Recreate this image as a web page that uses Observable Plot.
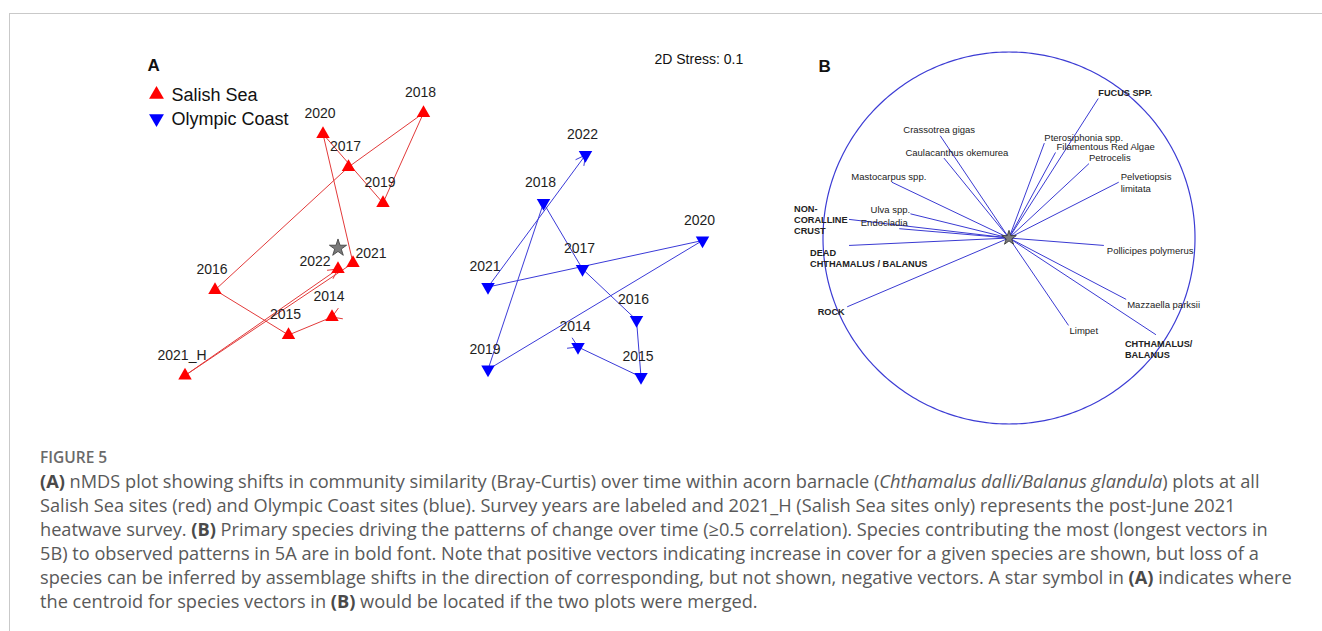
<!DOCTYPE html>
<html>
<head>
<meta charset="utf-8">
<script src="https://cdn.jsdelivr.net/npm/d3@7"></script>
<script src="https://cdn.jsdelivr.net/npm/@observablehq/plot@0.6"></script>
<style>
  html, body { margin: 0; padding: 0; background: #fff; }
  #figure { position: relative; width: 1322px; height: 631px; overflow: hidden; }
  #frame { position: absolute; left: 9px; top: 13px; right: 0; bottom: 0;
           border-top: 1px solid #c9c9c9; border-left: 1px solid #c9c9c9; }
  #panelA { position: absolute; left: 0; top: 0; }
  #panelB { position: absolute; left: 775.5px; top: 4.5px; }
  #caption { position: absolute; left: 40px; top: 445px; font-family: "Open Sans", "Noto Sans", sans-serif;
             color: #595959; font-size: 18.2px; line-height: 24px; white-space: nowrap; }
  #caption .fig { font-weight: 600; font-size: 15.5px; color: #6a6a6a; }
  #caption b { font-weight: 700; color: #4a4a4a; }
  svg { overflow: visible; }
</style>
</head>
<body>
<div id="figure">
  <div id="frame"></div>
  <div id="panelA"></div>
  <div id="panelB"></div>
  <div id="caption">
    <div class="fig">FIGURE 5</div>
    <div><b>(A)</b> nMDS plot showing shifts in community similarity (Bray-Curtis) over time within acorn barnacle (<i>Chthamalus dalli/Balanus glandula</i>) plots at all</div>
    <div>Salish Sea sites (red) and Olympic Coast sites (blue). Survey years are labeled and 2021_H (Salish Sea sites only) represents the post-June 2021</div>
    <div>heatwave survey. <b>(B)</b> Primary species driving the patterns of change over time (≥0.5 correlation). Species contributing the most (longest vectors in</div>
    <div>5B) to observed patterns in 5A are in bold font. Note that positive vectors indicating increase in cover for a given species are shown, but loss of a</div>
    <div>species can be inferred by assemblage shifts in the direction of corresponding, but not shown, negative vectors. A star symbol in <b>(A)</b> indicates where</div>
    <div>the centroid for species vectors in <b>(B)</b> would be located if the two plots were merged.</div>
  </div>
</div>
<script>
// ---- nMDS ordination (panel A) ----
const seriesNames = ["Salish Sea", "Olympic Coast"];
const stressValue = 0.1;

const salishYears = ["2014", "2015", "2016", "2017", "2018", "2019", "2020", "2021", "2021_H", "2022"];
const salishAxis1 = [-0.39, -0.68, -1.17, -0.28, 0.22, -0.05, -0.45, -0.25, -1.37, -0.35];
const salishAxis2 = [-0.51, -0.63, -0.33, 0.49, 0.85, 0.25, 0.71, -0.15, -0.90, -0.19];

const olympicYears = ["2014", "2015", "2016", "2017", "2018", "2019", "2020", "2021", "2022"];
const olympicAxis1 = [1.25, 1.67, 1.64, 1.28, 1.02, 0.65, 2.08, 0.65, 1.30];
const olympicAxis2 = [-0.71, -0.91, -0.53, -0.19, 0.25, -0.86, 0.00, -0.31, 0.57];

// centroid of the species vectors, placed in ordination space
const centroidAxis1 = -0.35;
const centroidAxis2 = -0.05;

// ---- species vectors (panel B), correlation units ----
const species = [
  "Crassotrea gigas", "Caulacanthus okemurea", "Mastocarpus spp.", "Ulva spp.", "Endocladia",
  "NON-\nCORALLINE\nCRUST", "DEAD\nCHTHAMALUS / BALANUS", "ROCK", "FUCUS SPP.",
  "Pterosiphonia spp.", "Filamentous Red Algae", "Petrocelis", "Pelvetiopsis\nlimitata",
  "Pollicipes polymerus", "Mazzaella parksii", "Limpet", "CHTHAMALUS/\nBALANUS"
];
const speciesAxis1 = [-0.37, -0.35, -0.63, -0.53, -0.59, -0.86, -0.86, -0.87, 0.48, 0.19, 0.25, 0.43, 0.59, 0.51, 0.63, 0.32, 0.79];
const speciesAxis2 = [0.55, 0.43, 0.30, 0.13, 0.05, 0.10, -0.04, -0.37, 0.75, 0.51, 0.46, 0.40, 0.30, -0.04, -0.33, -0.47, -0.52];
// species with the longest vectors (drawn in bold)
const strongestSpecies = ["NON-\nCORALLINE\nCRUST", "DEAD\nCHTHAMALUS / BALANUS", "ROCK", "FUCUS SPP.", "CHTHAMALUS/\nBALANUS"];

// ---- styling ----
const FONT = "Liberation Sans, Arial, Helvetica, sans-serif";
const RED = "#ff0000", BLUE = "#0000ff";
const RED_LINE = "#e23a3a", BLUE_LINE = "#3a3ad8";

// downward-pointing triangle symbol
const triangleDown = {
  draw(context, size) {
    const s3 = Math.sqrt(3);
    const y = Math.sqrt(size / (s3 * 3));
    context.moveTo(0, y * 2);
    context.lineTo(-s3 * y, -y);
    context.lineTo(s3 * y, -y);
    context.closePath();
  }
};

const toRows = (series, years, a1, a2) => years.map((year, i) => ({series, year, x: a1[i], y: a2[i]}));
const salish = toRows(seriesNames[0], salishYears, salishAxis1, salishAxis2);
const olympic = toRows(seriesNames[1], olympicYears, olympicAxis1, olympicAxis2);

const segments = (rows) => d3.pairs(rows).map(([a, b]) => ({x1: a.x, y1: a.y, x2: b.x, y2: b.y}));

// two short barbs at a tip, for an arrowhead pointing along (dx, dy)
function barbs(tip, dx, dy, len, halfAngle) {
  const n = Math.hypot(dx, dy), ux = dx / n, uy = dy / n, a = halfAngle * Math.PI / 180;
  return [-a, a].map(t => ({
    x1: tip.x, y1: tip.y,
    x2: tip.x - len * (ux * Math.cos(t) - uy * Math.sin(t)),
    y2: tip.y - len * (ux * Math.sin(t) + uy * Math.cos(t))
  }));
}
// start marker at the first survey and arrowhead at the last
function trajectoryHeads(rows, len) {
  const [p0, p1] = rows, q1 = rows[rows.length - 2], q = rows[rows.length - 1];
  return [
    ...barbs(p0, p1.x - p0.x, p1.y - p0.y, len, 32),
    ...barbs(q, q.x - q1.x, q.y - q1.y, len, 28)
  ];
}

const A_W = 780, A_H = 420, A_X = [-2.6, 2.6], A_Y = [-1.2, 1.6];
const unitPx = A_W / (A_X[1] - A_X[0]);
const headLen = 11 / unitPx;

// year label offsets (px) where the default spot would collide
const yearLabelShift = {"Salish Sea|2021": [18, -9], "Salish Sea|2022": [-23, -7]};
const yearLabels = [...salish, ...olympic].map(d => {
  const [dx, dy] = yearLabelShift[`${d.series}|${d.year}`] ?? [-3, -20];
  return Plot.text([d], {x: "x", y: "y", text: "year", dx, dy, fontSize: 14, fontFamily: FONT, fill: "#1e1e1e"});
});

// text pinned to the frame's top-left corner, centred vertically on dy
const frameText = (s, dx, dy, opts) => Plot.text([s], {
  text: d => d, frameAnchor: "top-left", dx, dy, textAnchor: "start", lineAnchor: "middle",
  fontFamily: FONT, fill: "#111", ...opts
});

const panelA = Plot.plot({
  width: A_W, height: A_H, margin: 0,
  x: {domain: A_X, axis: null},
  y: {domain: A_Y, axis: null},
  marks: [
    Plot.link(segments(salish), {x1: "x1", y1: "y1", x2: "x2", y2: "y2", stroke: RED_LINE, strokeWidth: 1}),
    Plot.link(trajectoryHeads(salish, headLen), {x1: "x1", y1: "y1", x2: "x2", y2: "y2", stroke: RED_LINE, strokeWidth: 1}),
    Plot.link(segments(olympic), {x1: "x1", y1: "y1", x2: "x2", y2: "y2", stroke: BLUE_LINE, strokeWidth: 1}),
    Plot.link(trajectoryHeads(olympic, headLen), {x1: "x1", y1: "y1", x2: "x2", y2: "y2", stroke: BLUE_LINE, strokeWidth: 1}),
    Plot.dot(salish, {x: "x", y: "y", symbol: "triangle", r: 5, fill: RED}),
    Plot.dot(olympic, {x: "x", y: "y", symbol: triangleDown, r: 5, fill: BLUE}),
    Plot.dot([{x: centroidAxis1, y: centroidAxis2}], {x: "x", y: "y", symbol: "star", r: 5.4, fill: "#7b7b7b", stroke: "#3a3a3a", strokeWidth: 0.8}),
    ...yearLabels,
    // legend
    Plot.dot([seriesNames[0]], {frameAnchor: "top-left", dx: 156, dy: 94, symbol: "triangle", r: 5.5, fill: RED}),
    Plot.dot([seriesNames[1]], {frameAnchor: "top-left", dx: 156, dy: 118, symbol: triangleDown, r: 5.5, fill: BLUE}),
    frameText(seriesNames[0], 171, 95, {fontSize: 18}),
    frameText(seriesNames[1], 171, 119, {fontSize: 18}),
    frameText("A", 147, 65, {fontSize: 17, fontWeight: "bold"}),
    frameText(`2D Stress: ${stressValue}`, 654, 59, {fontSize: 14})
  ]
});
document.getElementById("panelA").append(panelA);

// ---- panel B ----
const vectors = species.map((name, i) => ({name, x0: 0, y0: 0, x: speciesAxis1[i], y: speciesAxis2[i], bold: strongestSpecies.includes(name)}));
// correlation circle of radius 1
const unitCircle = d3.range(0, 361).map(deg => ({x: Math.cos(deg * Math.PI / 180), y: Math.sin(deg * Math.PI / 180)}));

// label anchor and offset (px) relative to each vector's tip
const labelPlacement = {
  "Crassotrea gigas": ["middle", -1, -6],
  "Caulacanthus okemurea": ["middle", 13, -6],
  "Mastocarpus spp.": ["middle", -3, -6],
  "Ulva spp.": ["middle", -20, -5],
  "Endocladia": ["middle", -15, -6],
  "NON-\nCORALLINE\nCRUST": ["start", -55, 0],
  "DEAD\nCHTHAMALUS / BALANUS": ["start", -39, 12.5],
  "ROCK": ["middle", -16, 5],
  "FUCUS SPP.": ["start", 0, -6],
  "Pterosiphonia spp.": ["start", 0, -6],
  "Filamentous Red Algae": ["start", 1, -6],
  "Petrocelis": ["start", 0, -6],
  "Pelvetiopsis\nlimitata": ["start", 2, 0],
  "Pollicipes polymerus": ["start", 3, 5],
  "Mazzaella parksii": ["start", 1, 5],
  "Limpet": ["start", 1, 5],
  "CHTHAMALUS/\nBALANUS": ["start", -31, 14.5]
};
const speciesLabels = vectors.map(d => {
  const [textAnchor, dx, dy] = labelPlacement[d.name];
  return Plot.text([d], {
    x: "x", y: "y", text: "name", textAnchor, dx, dy, lineHeight: 1.22,
    fontSize: d.bold ? 9.2 : 9.5, fontWeight: d.bold ? "bold" : "normal",
    fontFamily: FONT, fill: "#222"
  });
});

const panelB = Plot.plot({
  width: 465, height: 465, margin: 0,
  x: {domain: [-1.25, 1.25], axis: null},
  y: {domain: [-1.25, 1.25], axis: null},
  marks: [
    Plot.line(unitCircle, {x: "x", y: "y", stroke: "#3c3cd4", strokeWidth: 1.2}),
    Plot.link(vectors, {x1: "x0", y1: "y0", x2: "x", y2: "y", stroke: "#3a3ad2", strokeWidth: 1}),
    ...speciesLabels,
    Plot.dot([{x: 0, y: 0}], {x: "x", y: "y", symbol: "star", r: 4.6, fill: "#7b7b7b", stroke: "#2e2e2e", strokeWidth: 0.8}),
    frameText("B", 42, 61, {fontSize: 17, fontWeight: "bold"})
  ]
});
document.getElementById("panelB").append(panelB);
</script>
</body>
</html>
